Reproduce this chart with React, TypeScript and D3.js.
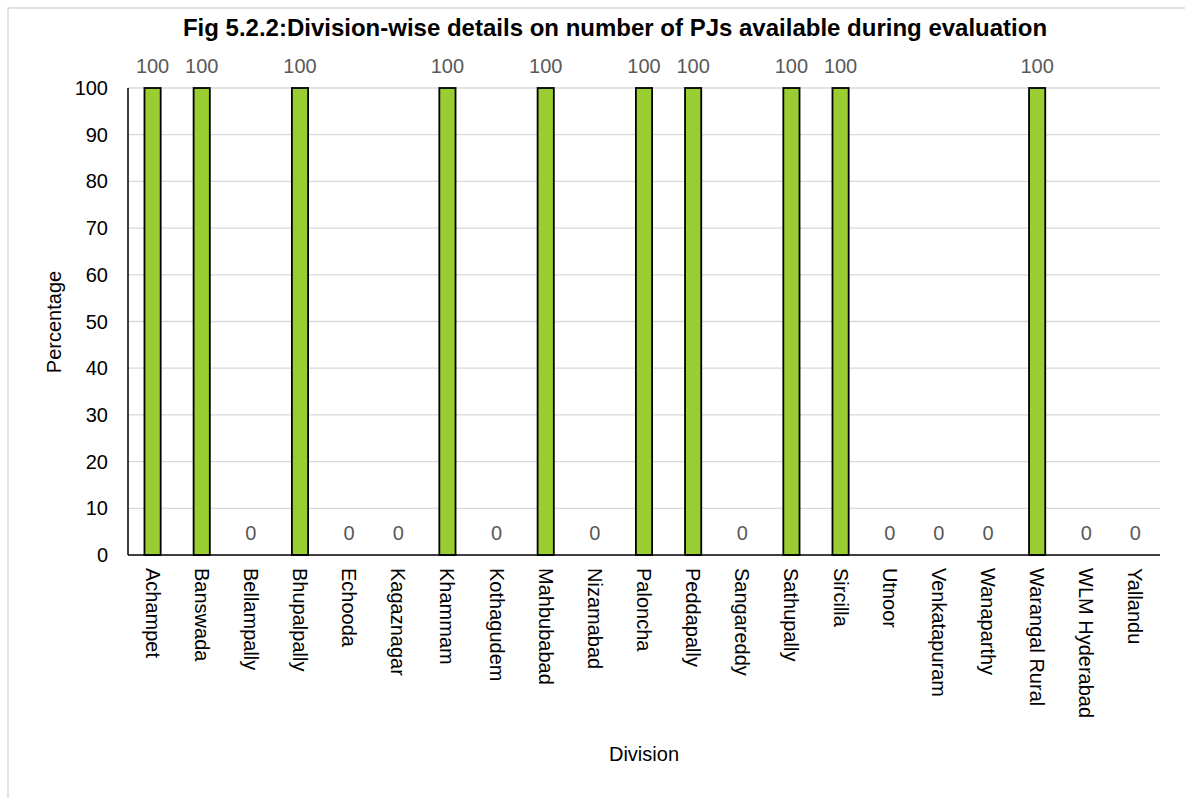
import React from "react";
import * as d3 from "d3";

const divisions = [
  "Achampet", "Banswada", "Bellampally", "Bhupalpally", "Echooda", "Kagaznagar",
  "Khammam", "Kothagudem", "Mahbubabad", "Nizamabad", "Paloncha", "Peddapally",
  "Sangareddy", "Sathupally", "Sircilla", "Utnoor", "Venkatapuram", "Wanaparthy",
  "Warangal Rural", "WLM Hyderabad", "Yallandu",
];
const percentages = [
  100, 100, 0, 100, 0, 0, 100, 0, 100, 0, 100, 100, 0, 100, 100, 0, 0, 0, 100, 0, 0,
];
const yTicks = [0, 10, 20, 30, 40, 50, 60, 70, 80, 90, 100];

const W = 1185;
const H = 798;
const plot = { left: 128, right: 1160, top: 88, bottom: 555 };
const font = "Arial, 'Liberation Sans', sans-serif";
const fs = 20;

export default function App() {
  const x = d3
    .scaleBand<string>()
    .domain(divisions)
    .range([plot.left, plot.right])
    .paddingInner(0.67)
    .paddingOuter(0.335);
  const y = d3.scaleLinear().domain([0, 100]).range([plot.bottom, plot.top]);
  const bw = x.bandwidth();

  return (
    <svg
      width={W}
      height={H}
      style={{ position: "absolute", left: 0, top: 0 }}
      fontFamily={font}
    >
      <rect x={0} y={0} width={W} height={H} fill="#fff" />
      <rect x={8} y={8} width={W + 20} height={H + 20} fill="#fff" stroke="#d9d9d9" strokeWidth={1.5} />

      <text x={615} y={36} textAnchor="middle" fontSize={24} fontWeight="bold" fill="#000">
        Fig 5.2.2:Division-wise details on number of PJs available during evaluation
      </text>

      {yTicks.map((t) => (
        <g key={t}>
          {t > 0 && (
            <line x1={plot.left} x2={plot.right} y1={y(t)} y2={y(t)} stroke="#d9d9d9" strokeWidth={1.3} />
          )}
          <text x={108} y={y(t)} dy="0.35em" textAnchor="end" fontSize={fs} fill="#000">
            {t}
          </text>
        </g>
      ))}

      {divisions.map((d, i) => {
        const v = percentages[i];
        const cx = (x(d) as number) + bw / 2;
        return (
          <g key={d}>
            {v > 0 && (
              <rect
                x={x(d) as number}
                y={y(v)}
                width={bw}
                height={y(0) - y(v)}
                fill="#9acd32"
                stroke="#000"
                strokeWidth={1.8}
              />
            )}
            <text x={cx} y={y(v) - 15} textAnchor="middle" fontSize={fs} fill="#595959">
              {v}
            </text>
            <text
              transform={`translate(${cx},568) rotate(90)`}
              dy="0.35em"
              textAnchor="start"
              fontSize={fs}
              fill="#000"
            >
              {d}
            </text>
          </g>
        );
      })}

      <line x1={plot.left} x2={plot.left} y1={plot.top} y2={plot.bottom} stroke="#000" strokeWidth={1.5} />
      <line x1={plot.left} x2={plot.right} y1={plot.bottom} y2={plot.bottom} stroke="#000" strokeWidth={1.5} />

      <text transform={`translate(61,322) rotate(-90)`} textAnchor="middle" fontSize={fs} fill="#000">
        Percentage
      </text>
      <text x={644} y={761} textAnchor="middle" fontSize={fs} fill="#000">
        Division
      </text>
    </svg>
  );
}
